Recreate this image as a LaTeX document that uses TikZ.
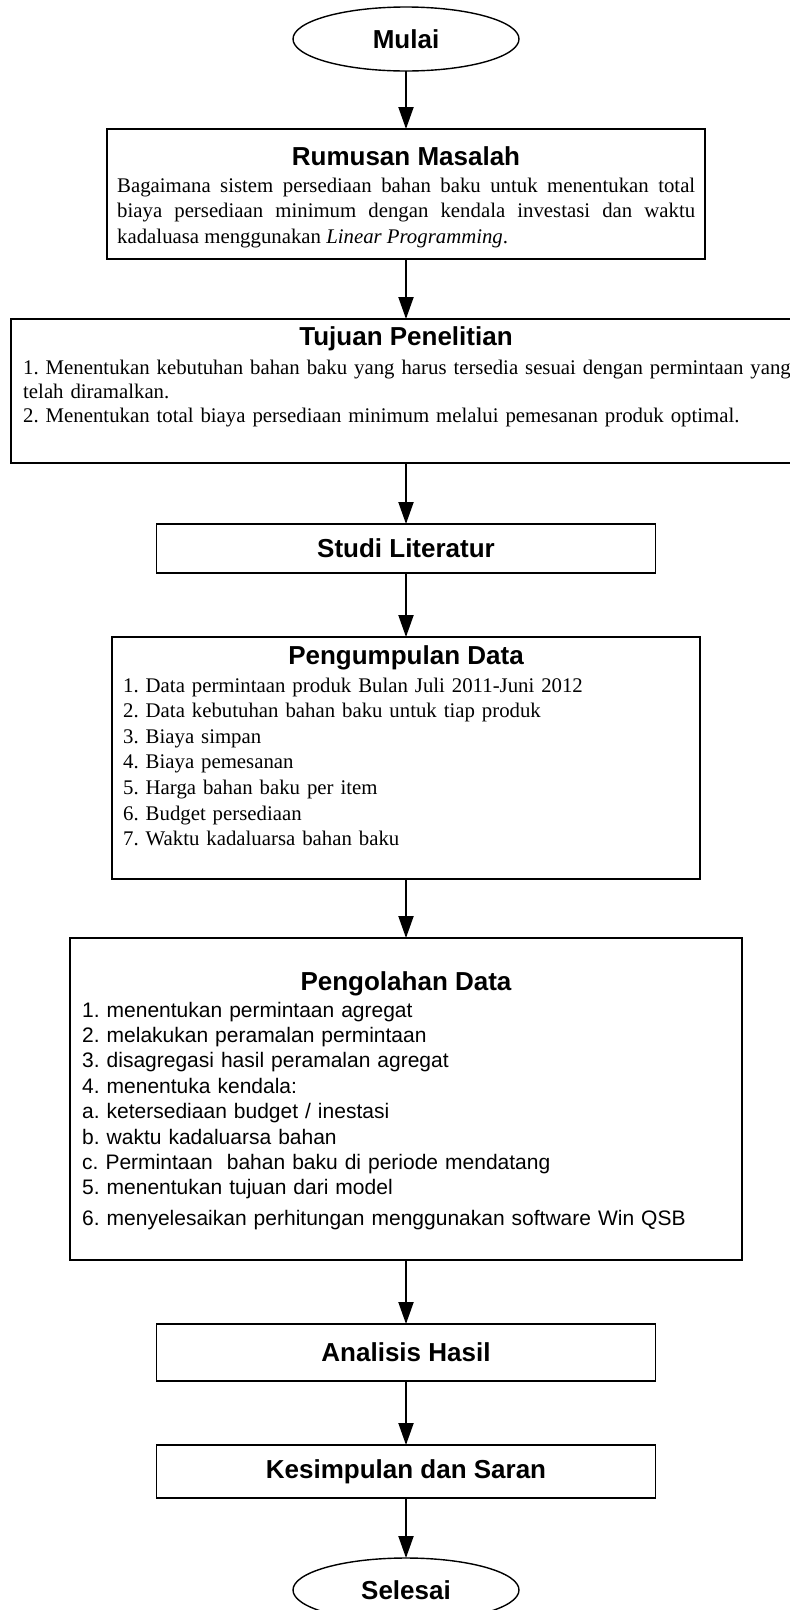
\documentclass[tikz,border=0pt]{standalone}
\usepackage{fontspec}
\setmainfont{Liberation Serif}
\setsansfont{Liberation Sans}
\usetikzlibrary{shapes.geometric, positioning, arrows.meta}
\frenchspacing
\newcommand{\judul}{\fontsize{26}{30}\selectfont\sffamily\bfseries}
\newcommand{\isiserif}{\fontsize{20.8}{25.5}\selectfont\rmfamily}
\newcommand{\isisans}{\fontsize{21}{25.4}\selectfont\sffamily}
\tikzset{
    ->, % semua alur berpanah
    >={Triangle[length=22pt, width=15pt]}, % kepala panah besar
    terminal/.style={ellipse, draw, line width=1.4pt, minimum width=226pt, minimum height=64pt, inner sep=0pt, outer sep=0pt, font=\judul}, % mulai / selesai
    kotak/.style={rectangle, draw, line width=1.4pt, inner sep=0pt, outer sep=0pt, font=\judul}, % kotak proses
    isi/.style={anchor=base west, inner sep=0pt, align=left}, % teks isi kotak
}

\begin{document}
\begin{tikzpicture}[x=1pt, y=1pt]
    \useasboundingbox (0,0) rectangle (790,-1610);
    \node[terminal] (mulai) at (406,-39) {Mulai};
    \node[kotak, minimum width=598pt, minimum height=130pt, below=58pt of mulai] (rumusan) {};
    \node[kotak, minimum width=790pt, minimum height=144pt, below=60pt of rumusan] (tujuan) {};
    \node[kotak, minimum width=499pt, minimum height=49pt, below=61pt of tujuan] (studi) {Studi Literatur};
    \node[kotak, minimum width=588pt, minimum height=242pt, below=64pt of studi] (kumpul) {};
    \node[kotak, minimum width=672pt, minimum height=322pt, below=59pt of kumpul] (olah) {};
    \node[kotak, minimum width=499pt, minimum height=57pt, below=64pt of olah] (analisis) {Analisis Hasil};
    \node[kotak, minimum width=499pt, minimum height=53pt, below=64pt of analisis] (simpul) {Kesimpulan dan Saran};
    \node[terminal, below=60pt of simpul] (selesai) {Selesai};

    % judul di dalam kotak
    \node[font=\judul, anchor=base] (rumusanJ) at ([yshift=-36pt]rumusan.north) {Rumusan Masalah};
    \node[font=\judul, anchor=base] (tujuanJ) at ([yshift=-26pt]tujuan.north) {Tujuan Penelitian};
    \node[font=\judul, anchor=base] (kumpulJ) at ([yshift=-27pt]kumpul.north) {Pengumpulan Data};
    \node[font=\judul, anchor=base] (olahJ) at ([yshift=-52pt]olah.north) {Pengolahan Data};

    % isi kotak
    \node[isi, font=\isiserif, text width=578pt, align=justify] (rumusanI) at ([xshift=-289pt, yshift=-63pt]rumusan.north)
        {Bagaimana sistem persediaan bahan baku untuk menentukan total\linebreak
         biaya persediaan minimum dengan kendala investasi dan waktu\linebreak
         kadaluasa menggunakan \textit{Linear Programming}.};
    \node[isi, font={\fontsize{20.8}{24}\selectfont}, text width=790pt] (tujuanI) at ([xshift=-383pt, yshift=-55pt]tujuan.north)
        {1. Menentukan kebutuhan bahan baku yang harus tersedia sesuai dengan permintaan yang\\
         telah diramalkan.\\
         2. Menentukan total biaya persediaan minimum melalui pemesanan produk optimal.};
    \node[isi, font={\fontsize{20.8}{25.6}\selectfont}, text width=560pt] (kumpulI) at ([xshift=-283pt, yshift=-55pt]kumpul.north)
        {1. Data permintaan produk Bulan Juli 2011-Juni 2012\\
         2. Data kebutuhan bahan baku untuk tiap produk\\
         3. Biaya simpan\\
         4. Biaya pemesanan\\
         5. Harga bahan baku per item\\
         6. Budget persediaan\\
         7. Waktu kadaluarsa bahan baku};
    \node[isi, font=\isisans, text width=640pt] (olahI) at ([xshift=-324pt, yshift=-79pt]olah.north)
        {1. menentukan permintaan agregat\\
         2. melakukan peramalan permintaan\\
         3. disagregasi hasil peramalan agregat\\
         4. menentuka kendala:\\
         a. ketersediaan budget / inestasi\\
         b. waktu kadaluarsa bahan\\
         c. Permintaan\ \ bahan baku di periode mendatang\\
         5. menentukan tujuan dari model\\[5pt]
         6. menyelesaikan perhitungan menggunakan software Win QSB};

    \draw[line width=2pt] (mulai) edge (rumusan)
        (rumusan) edge (tujuan)
        (tujuan) edge (studi)
        (studi) edge (kumpul)
        (kumpul) edge (olah)
        (olah) edge (analisis)
        (analisis) edge (simpul)
        (simpul) edge (selesai);
\end{tikzpicture}
\end{document}
